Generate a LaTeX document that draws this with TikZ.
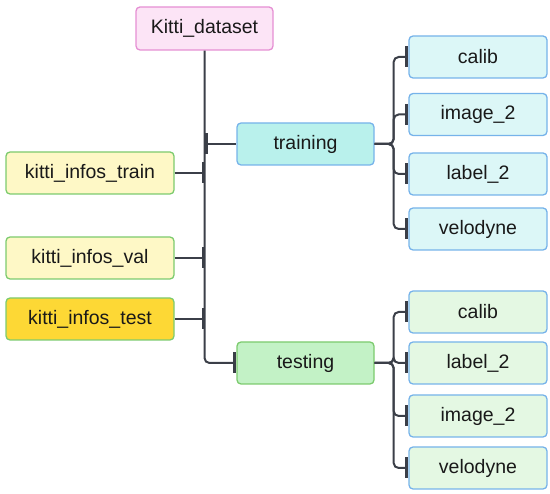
\documentclass[tikz,border=0pt]{standalone}
\usepackage{fontspec}
\setmainfont{Liberation Sans}
\usetikzlibrary{arrows.meta}
\definecolor{linec}{HTML}{3B3F48}
\definecolor{pinkf}{HTML}{FCE4F6}\definecolor{pinkd}{HTML}{E58FD3}
\definecolor{trainf}{HTML}{B9F1EC}\definecolor{blued}{HTML}{76B3EA}
\definecolor{cyanf}{HTML}{DCF7F7}
\definecolor{yelf}{HTML}{FEF8C6}\definecolor{greend}{HTML}{7CCB6E}
\definecolor{goldf}{HTML}{FDD835}
\definecolor{testf}{HTML}{C3F2C6}
\definecolor{ltgreenf}{HTML}{E4F8E3}
\tikzset{
  box/.style={draw, line width=1.3pt, rounded corners=4pt, minimum height=42pt,
    inner sep=0pt, font=\fontsize{19.5}{22}\selectfont, text=black!90},
  conn/.style={draw=linec, line width=2pt, rounded corners=5pt},
  tk/.tip={Bar[width=21pt,line width=3pt]}
}
\begin{document}
\begin{tikzpicture}[x=1pt,y=-1pt]
\useasboundingbox (0,0) rectangle (550,494);
\node[box, fill=pinkf, draw=pinkd, minimum width=137pt, minimum height=43pt] (root) at (204.5,28.5) {Kitti\_dataset};
\node[box, fill=trainf, draw=blued, minimum width=137pt] (training) at (305.5,144) {training};
\node[box, fill=testf, draw=greend, minimum width=137pt] (testing) at (305.5,363) {testing};
\node[box, fill=yelf, draw=greend, minimum width=168pt] (ktrain) at (90,173) {kitti\_infos\_train};
\node[box, fill=yelf, draw=greend, minimum width=168pt] (kval) at (90,258) {kitti\_infos\_val};
\node[box, fill=goldf, draw=greend, minimum width=168pt] (ktest) at (90,319) {kitti\_infos\_test};
\node[box, fill=cyanf, draw=blued, minimum width=138pt] (tcalib) at (478,57) {calib};
\node[box, fill=cyanf, draw=blued, minimum width=138pt] (timage) at (478,114.5) {image\_2};
\node[box, fill=cyanf, draw=blued, minimum width=138pt] (tlabel) at (478,174) {label\_2};
\node[box, fill=cyanf, draw=blued, minimum width=138pt] (tvelo) at (478,229) {velodyne};
\node[box, fill=ltgreenf, draw=blued, minimum width=138pt] (scalib) at (478,312) {calib};
\node[box, fill=ltgreenf, draw=blued, minimum width=138pt] (slabel) at (478,363) {label\_2};
\node[box, fill=ltgreenf, draw=blued, minimum width=138pt] (simage) at (478,416) {image\_2};
\node[box, fill=ltgreenf, draw=blued, minimum width=138pt] (svelo) at (478,468) {velodyne};
% trunk
\path[conn, -tk] (root.south) |- (testing.west);
\path[conn, tk-] (root.south |- training.west) -- (training.west);
\path[conn, -tk] (ktrain.east) -- (ktrain.east -| root.south);
\path[conn, -tk] (kval.east) -- (kval.east -| root.south);
\path[conn, -tk] (ktest.east) -- (ktest.east -| root.south);
% training branch
\foreach \c in {tcalib,timage,tlabel,tvelo}
  \path[conn, -tk] (training.east) -- ++(19,0) |- (\c.west);
% testing branch
\foreach \c in {scalib,slabel,simage,svelo}
  \path[conn, -tk] (testing.east) -- ++(19,0) |- (\c.west);
\end{tikzpicture}
\end{document}
